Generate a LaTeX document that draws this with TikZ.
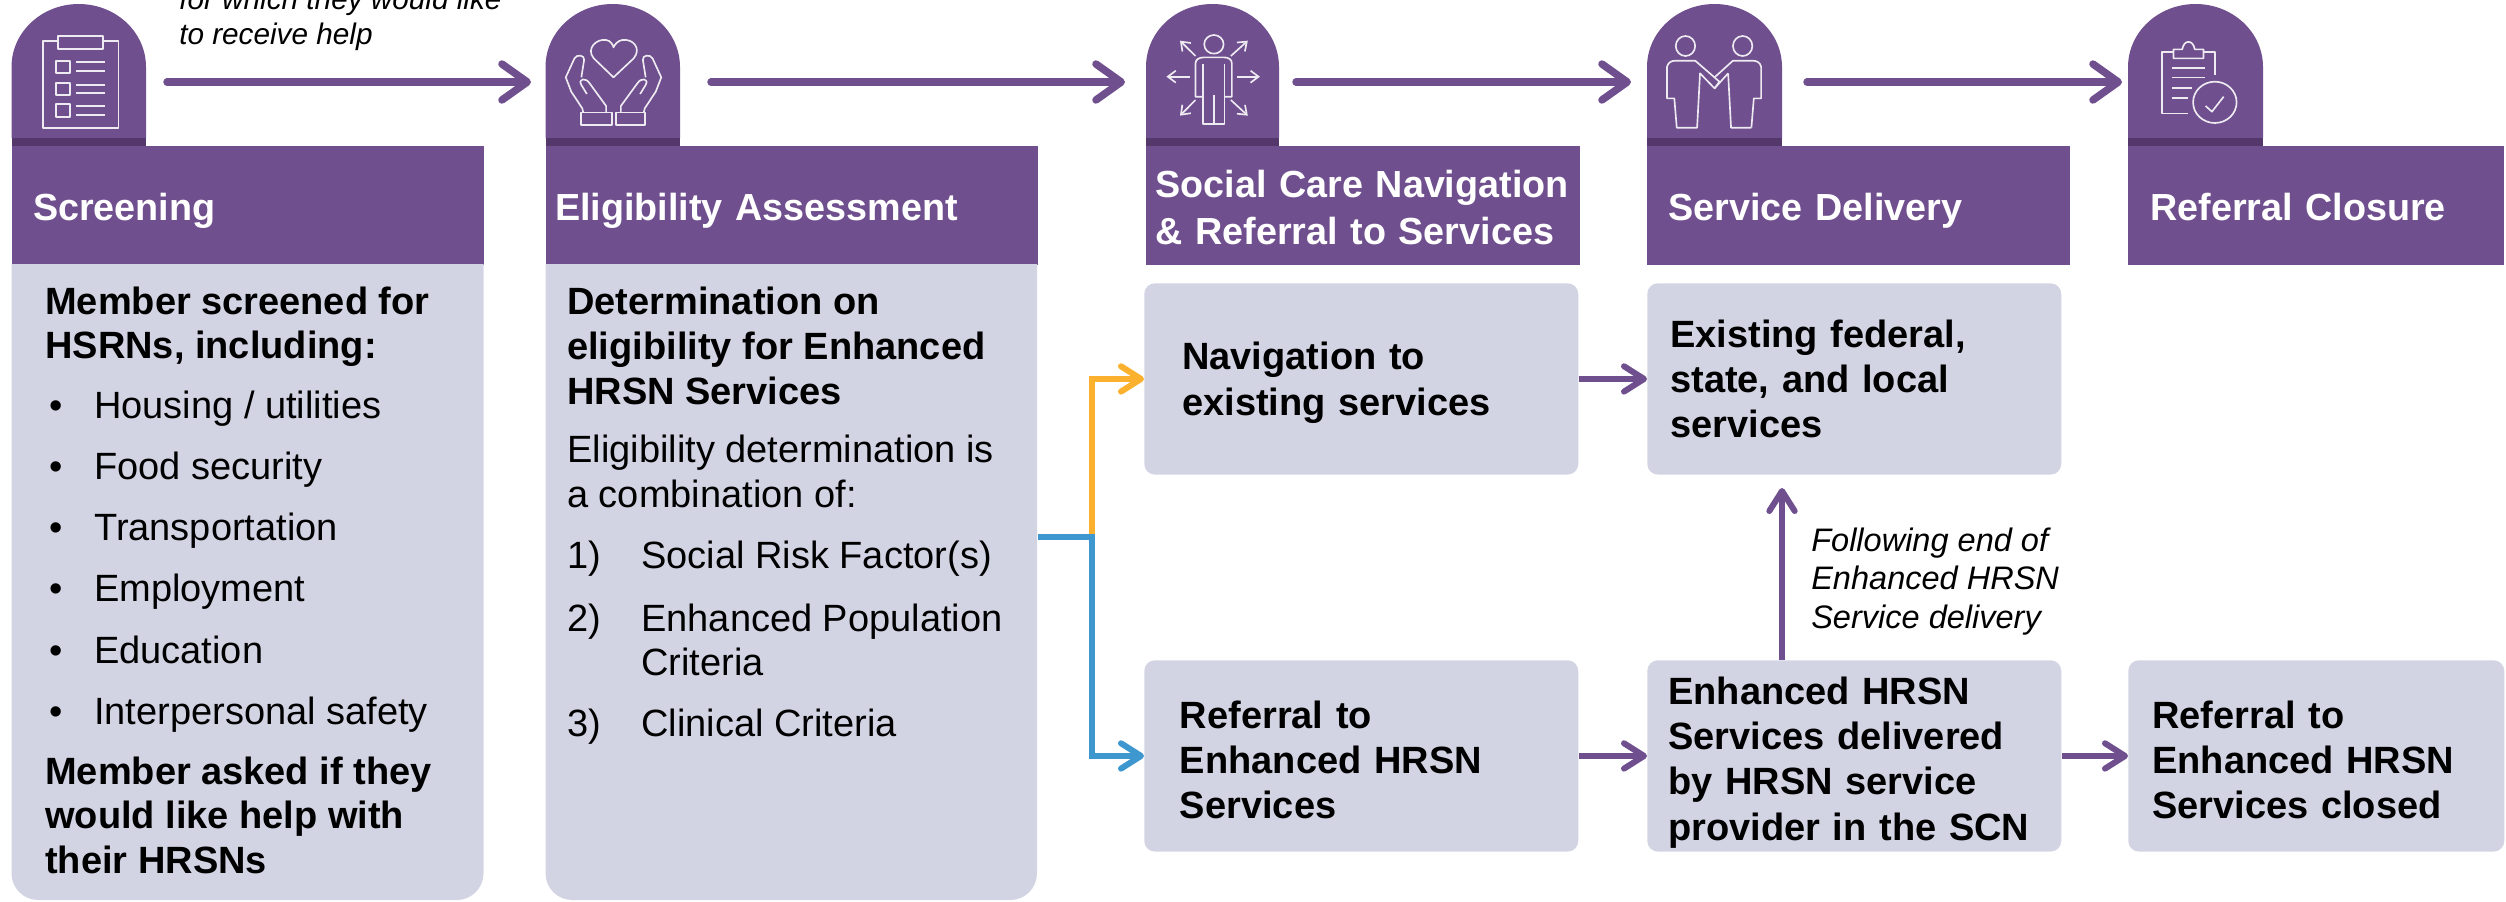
\documentclass[tikz,border=0pt]{standalone}
\usepackage{fontspec}
\setmainfont{Liberation Sans}
\usetikzlibrary{arrows.meta}
\definecolor{hdr}{HTML}{6F4F8E}
\definecolor{hdrdark}{HTML}{54376B}
\definecolor{panel}{HTML}{D2D4E3}
\definecolor{gold}{HTML}{FBB12E}
\definecolor{sky}{HTML}{3F97CF}
\newcommand{\bigtxt}{\fontsize{28.5}{34}\selectfont}
\newcommand{\headtxt}{\fontsize{28.3}{34}\selectfont}
\newcommand{\smalltxt}{\fontsize{22.3}{26.5}\selectfont\itshape}
\newcommand{\notetxt}{\fontsize{24.4}{26.5}\selectfont\itshape}
\newcommand{\hdrstrut}{\rule[-10.2pt]{0pt}{43pt}}
\newcommand{\archshape}[2]{%
  \fill[hdr] (#1,138) -- (#1,67) .. controls (#1,32) and ({(#1+#2)/2-37},4) .. ({(#1+#2)/2},4)
     .. controls ({(#1+#2)/2+37},4) and (#2,32) .. (#2,67) -- (#2,138) -- cycle;
  \fill[hdrdark] (#1,137.7) rectangle (#2,146);}
\tikzset{
  x=0.75pt,y=-0.75pt,
  header/.style={fill=hdr,text=white,font=\headtxt\bfseries,anchor=north west,align=left,
     minimum height=89pt,inner ysep=0pt},
  box/.style={fill=panel,rounded corners=8pt,font=\bigtxt\bfseries,anchor=north west,align=left,
     minimum height=143.5pt,inner ysep=0pt},
  bold line/.style={anchor=base west,font=\bigtxt\bfseries,inner sep=0pt,align=left},
  plain line/.style={anchor=base west,font=\bigtxt,inner sep=0pt,align=left},
  note/.style={anchor=base west,font=\smalltxt,inner sep=0pt,align=left},
  side note/.style={anchor=base west,font=\notetxt,inner sep=0pt,align=left},
  bigflow/.style={draw=hdr,line width=5.6pt,line cap=round,
     -{Straight Barb[length=19pt,width=27pt,line width=5.6pt,round]}},
  flow/.style={line width=4.5pt,
     -{Straight Barb[length=15pt,width=19pt,line width=4.5pt,round]}},
  icon/.style={draw=white!88!hdr,line width=1.25pt,line join=round},
}
\begin{document}
\begin{tikzpicture}
\useasboundingbox (0,0) rectangle (2506,901);
\clip (0,0) rectangle (2506,901);

% arches
\archshape{11.5}{146}
\archshape{545.5}{680}
\archshape{1146}{1279}
\archshape{1647}{1782}
\archshape{2128}{2263}

% headers
\node[header,minimum width=354pt,text width=338pt,inner xsep=8pt] (h1) at (11.5,146) {\hspace*{8pt}\hdrstrut Screening};
\node[header,minimum width=369pt,text width=361pt,inner xsep=4pt] (h2) at (545.5,146) {\hspace*{3pt}\hdrstrut Eligibility Assessment};
\node[header,minimum width=325pt,text width=317pt,inner xsep=4pt] (h3) at (1146,146) {\hspace*{3pt}\hdrstrut Social Care Navigation\\[1.5pt]\hspace*{3pt}\strut\& Referral to Services};
\node[header,minimum width=317pt,text width=300pt,inner xsep=8.5pt] (h4) at (1647,146) {\hspace*{7.5pt}\hdrstrut Service Delivery};
\node[header,minimum width=282pt,text width=265pt,inner xsep=8.5pt] (h5) at (2128,146) {\hspace*{8pt}\hdrstrut Referral Closure};

% tall panels
\fill[panel] (11.5,264) -- (483.5,264) [rounded corners=20pt] -- (483.5,900) -- (11.5,900) [sharp corners] -- cycle;
\fill[panel] (545.5,264) -- (1037,264) [rounded corners=20pt] -- (1037,900) -- (545.5,900) [sharp corners] -- cycle;

% screening text
\node[bold line] (s1) at (45,314) {Member screened for};
\node[bold line] (s2) at (45,358) {HSRNs, including:};
\foreach \yy/\tt/\nn in {418/{Housing / utilities}/b1,479/Food security/b2,540/Transportation/b3,601/Employment/b4,663/Education/b5,724/Interpersonal safety/b6}{
  \node[plain line] (\nn) at (94,\yy) {\tt};
  \node[plain line] (\nn d) at (49.5,\yy) {•};
}
\node[bold line] (s3) at (45,784) {Member asked if they};
\node[bold line] (s4) at (45,828) {would like help with};
\node[bold line] (s5) at (45,873) {their HRSNs};

% eligibility text
\node[bold line] (e1) at (567,314) {Determination on};
\node[bold line] (e2) at (567,359) {eligibility for Enhanced};
\node[bold line] (e3) at (567,404) {HRSN Services};
\node[plain line] (e4) at (567,462) {Eligibility determination is};
\node[plain line] (e5) at (567,507) {a combination of:};
\node[plain line] (n1) at (567,568) {1)};
\node[plain line] (t1) at (641,568) {Social Risk Factor(s)};
\node[plain line] (n2) at (567,631) {2)};
\node[plain line] (t2) at (641,631) {Enhanced Population};
\node[plain line] (t2b) at (641,675) {Criteria};
\node[plain line] (n3) at (567,736) {3)};
\node[plain line] (t3) at (641,736) {Clinical Criteria};

% boxes
\node[box,minimum width=325.5pt,text width=268.5pt,inner xsep=28.5pt] (nav) at (1144,283) {\rule{0pt}{26.5pt}Navigation to\\existing services};
\node[box,minimum width=310.5pt,text width=276pt,inner xsep=17.25pt] (exist) at (1647,283) {Existing federal,\\state, and local\\services};
\node[box,minimum width=325.5pt,text width=272pt,inner xsep=26.75pt] (ref) at (1144,660) {\rule{0pt}{26.5pt}Referral to\\Enhanced HRSN\\Services};
\node[box,minimum width=310.5pt,text width=279pt,inner xsep=15.75pt] (enh) at (1647,660) {\rule{0pt}{30pt}Enhanced HRSN\\Services delivered\\by HRSN service\\provider in the SCN};
\node[box,minimum width=282pt,text width=246pt,inner xsep=18pt] (closed) at (2128,660) {\rule{0pt}{26.5pt}Referral to\\Enhanced HRSN\\Services closed};

% notes
\node[note] (topnote) at (179,9) {for which they would like};
\node[note] (topnote2) at (179,44) {to receive help};
\node[side note] (f1) at (1811,551) {Following end of};
\node[side note] (f2) at (1811,589) {Enhanced HRSN};
\node[side note] (f3) at (1811,628) {Service delivery};

% top arrows
\coordinate (a1s) at (167,82); \coordinate (a1e) at (531,82);
\coordinate (a2s) at (711,82); \coordinate (a2e) at (1125,82);
\coordinate (a3s) at (1296,82); \coordinate (a3e) at (1631,82);
\coordinate (a4s) at (1807,82); \coordinate (a4e) at (2122,82);
\draw[bigflow] (a1s) -- (a1e);
\draw[bigflow] (a2s) -- (a2e);
\draw[bigflow] (a3s) -- (a3e);
\draw[bigflow] (a4s) -- (a4e);

% fork
\coordinate (fork) at (1038,537);
\coordinate (mid) at (1092,537);
\draw[flow,draw=gold] (fork) -- (mid) |- (nav.west);
\draw[flow,draw=sky] (fork) -- (mid) |- (ref.west);

% box arrows
\draw[flow,draw=hdr] (nav.east) -- (exist.west);
\draw[flow,draw=hdr] (ref.east) -- (enh.west);
\draw[flow,draw=hdr] (enh.east) -- (closed.west);
\coordinate (up) at (1782,488);
\draw[flow,draw=hdr] (enh.north -| up) -- (up);

% icon 1: checklist
\draw[icon] (42.7,41) rectangle (118.5,128);
\draw[icon,fill=hdr] (58,36) rectangle (103,49);
\foreach \a/\b/\c/\d in {61/73/62/71,83/95/85/93,104/117/106/115}{
  \draw[icon] (56,\a) rectangle (70,\b);
  \draw[icon] (76,\c) -- (105,\c);
  \draw[icon] (76,\d) -- (105,\d);
}

% icon 2: heart and hands (zoom coordinates)
\begin{scope}[x=0.3444pt,y=-0.25pt]
  \draw[icon] (1336,232) -- (1293,175) .. controls (1275,145) and (1300,115) .. (1320,120)
     .. controls (1330,122) and (1335,135) .. (1336,142) .. controls (1338,135) and (1345,122) .. (1355,120)
     .. controls (1378,115) and (1398,145) .. (1380,175) -- cycle;
  \draw[icon] (1265,337) rectangle (1332,375);
  \draw[icon] (1342,337) rectangle (1405,375);
  \foreach \m in {1,-1}{
    \begin{scope}[shift={(1336,0)},xscale=\m]
      \draw[icon] (-66,337) -- (-68,325) -- (-92,275) -- (-104,232) -- (-85,175)
         .. controls (-80,162) and (-62,165) .. (-64,180) -- (-70,232);
      \draw[icon] (-16,337) -- (-16,318) -- (-52,250) .. controls (-60,232) and (-78,235) .. (-70,255) -- (-58,282);
    \end{scope}
  }
\end{scope}

% icon 3: person with arrows (zoom coordinates)
\begin{scope}[x=0.3635pt,y=-0.25pt,shift={(825pt,0)}]
  \draw[icon] (235,133) ellipse [x radius=20,y radius=28];
  \draw[icon] (212,290) -- (197,290) -- (197,190) .. controls (197,178) and (205,172) .. (215,172) -- (255,172)
     .. controls (265,172) and (272,178) .. (272,190) -- (272,290) -- (257,290);
  \draw[icon] (212,192) -- (212,372) -- (257,372) -- (257,192);
  \draw[icon] (235,285) -- (235,372);
  \draw[icon,-{Straight Barb[length=6pt,width=9pt]}] (197,168) -- (165,122);
  \draw[icon,-{Straight Barb[length=6pt,width=9pt]}] (270,168) -- (305,122);
  \draw[icon,-{Straight Barb[length=6pt,width=9pt]}] (185,230) -- (137,230);
  \draw[icon,-{Straight Barb[length=6pt,width=9pt]}] (283,230) -- (330,230);
  \draw[icon,-{Straight Barb[length=6pt,width=9pt]}] (197,300) -- (165,347);
  \draw[icon,-{Straight Barb[length=6pt,width=9pt]}] (270,300) -- (305,347);
\end{scope}

% icon 4: two people (zoom coordinates)
\begin{scope}[x=0.3635pt,y=-0.25pt,shift={(825pt,0)}]
  \draw[icon] (1208,138) ellipse [x radius=20,y radius=30];
  \draw[icon] (1326,138) ellipse [x radius=20,y radius=30];
  \draw[icon] (1190,383) -- (1185,295) -- (1170,295) -- (1170,200) .. controls (1172,188) and (1178,182) .. (1188,182)
     -- (1228,182) -- (1278,245) -- (1268,265) -- (1238,220) -- (1232,383) -- cycle;
  \draw[icon] (1344,383) -- (1349,295) -- (1364,295) -- (1364,200) .. controls (1362,188) and (1356,182) .. (1346,182)
     -- (1306,182) -- (1268,232);
  \draw[icon] (1296,220) -- (1302,383) -- (1344,383);
  \draw[icon] (1268,265) -- (1296,220);
\end{scope}

% icon 5: clipboard with check (zoom coordinates)
\begin{scope}[x=0.3138pt,y=-0.25pt,shift={(1387.5pt,0)}]
  \draw[icon] (873,225) -- (873,155) -- (845,155);
  \draw[icon] (773,155) -- (745,155) -- (745,340) -- (808,340);
  \draw[icon] (773,175) -- (845,175) -- (845,148) -- (824,148) .. controls (820,118) and (798,118) .. (794,148) -- (773,148) -- cycle;
  \draw[icon] (770,203) -- (848,203);
  \draw[icon] (770,232) -- (848,232);
  \draw[icon] (770,263) -- (818,263);
  \draw[icon] (770,293) -- (808,293);
  \draw[icon] (872,307) ellipse [x radius=52,y radius=62];
  \draw[icon] (850,318) -- (865,335) -- (893,290);
\end{scope}
\end{tikzpicture}
\end{document}
